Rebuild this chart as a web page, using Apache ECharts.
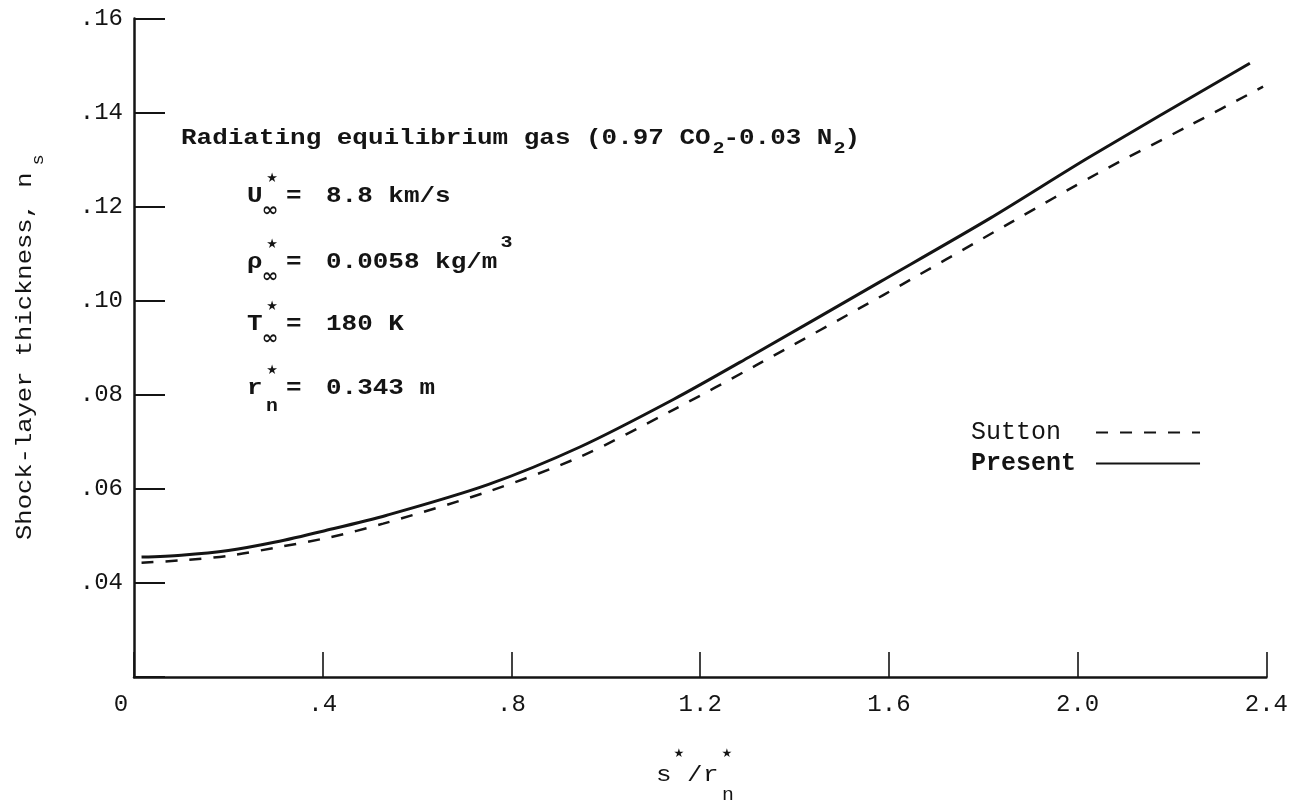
<!DOCTYPE html>
<html>
<head>
<meta charset="utf-8">
<script src="https://cdn.jsdelivr.net/npm/echarts@6/dist/echarts.min.js"></script>
<style>
  html, body { margin: 0; padding: 0; background: #ffffff; }
  #chart { width: 1291px; height: 805px; }
</style>
</head>
<body>
<div id="chart"></div>
<script>
// ---- data ----
const presentX = [0.016, 0.1, 0.2, 0.3, 0.4, 0.536, 0.75, 0.945, 1.143, 1.305, 1.581, 1.814, 2.026, 2.365];
const presentY = [0.0455, 0.0459, 0.0469, 0.0487, 0.0510, 0.0544, 0.0609, 0.0689, 0.0790, 0.0881, 0.1040, 0.1175, 0.1306, 0.1505];
const suttonX  = [0.016, 0.1, 0.203, 0.3, 0.415, 0.528, 0.75, 0.945, 1.143, 1.319, 1.588, 1.856, 2.043, 2.238, 2.393];
const suttonY  = [0.0443, 0.0448, 0.0458, 0.0475, 0.0497, 0.0526, 0.0594, 0.0668, 0.0768, 0.0863, 0.1012, 0.1165, 0.1271, 0.1373, 0.1455];
const xTicks = [0, 0.4, 0.8, 1.2, 1.6, 2.0, 2.4];
const yTicks = [0.02, 0.04, 0.06, 0.08, 0.10, 0.12, 0.14, 0.16];
const seriesNames = ['Sutton', 'Present'];

const MONO = "'Liberation Mono', 'DejaVu Sans Mono', monospace";
const SYM = "'DejaVu Sans', sans-serif";
const INK = '#141414';

function pairs(xs, ys) { return xs.map((x, i) => [x, ys[i]]); }

function txt(x, y, text, size, o) {
  o = o || {};
  const family = o.family || MONO;
  const sx = o.sx !== undefined ? o.sx : 1.18;
  const align = o.align || 'left';
  return {
    type: 'text', x: x, y: y, scaleX: sx, rotation: o.rot || 0, z: 10,
    style: {
      text: text, fontFamily: family, fontSize: size, fill: INK,
      fontWeight: o.weight || 'bold',
      align: align, verticalAlign: 'middle',
      textAlign: align, textVerticalAlign: 'middle'
    }
  };
}

const P = 15.6; // character pitch of the typewriter text
const graphics = [];
// Title line
let x0 = 181;
const l1 = 'Radiating equilibrium gas (0.97 CO';
graphics.push(txt(x0, 138, l1, 22));
let xc = x0 + l1.length * P;
graphics.push(txt(xc + 1, 149, '2', 17));
xc += 12;
graphics.push(txt(xc, 138, '-0.03 N', 22));
xc += 7 * P;
graphics.push(txt(xc + 1, 149, '2', 17));
xc += 12;
graphics.push(txt(xc, 138, ')', 22));

// parameter lines
const params = [
  { sym: 'U', sub: '\u221E', val: '8.8 km/s', y: 196 },
  { sym: '\u03C1', sub: '\u221E', val: '0.0058 kg/m', y: 262, sup: '3' },
  { sym: 'T', sub: '\u221E', val: '180 K', y: 324 },
  { sym: 'r', sub: 'n', val: '0.343 m', y: 388 }
];
params.forEach(p => {
  graphics.push(txt(247, p.y, p.sym, 22));
  graphics.push(txt(272, p.y - 17, '\u2605', 13, { family: SYM, sx: 1, align: 'center', weight: 'normal' }));
  if (p.sub === 'n') {
    graphics.push(txt(272, p.y + 18, 'n', 18, { align: 'center', sx: 1.1 }));
  } else {
    graphics.push(txt(270, p.y + 15, '\u221E', 19, { family: SYM, sx: 1.05, align: 'center' }));
  }
  graphics.push(txt(286, p.y, '=', 22));
  graphics.push(txt(326, p.y, p.val, 22));
  if (p.sup) {
    graphics.push(txt(326 + p.val.length * P + 3, p.y - 19, p.sup, 17));
  }
});

// x-axis title  s*/r*_n
graphics.push(txt(656, 775, 's', 22, { weight: 'normal' }));
graphics.push(txt(679, 754, '\u2605', 12, { family: SYM, sx: 1, align: 'center', weight: 'normal' }));
graphics.push(txt(687, 775, '/', 22, { weight: 'normal' }));
graphics.push(txt(703, 775, 'r', 22, { weight: 'normal' }));
graphics.push(txt(727, 754, '\u2605', 12, { family: SYM, sx: 1, align: 'center', weight: 'normal' }));
graphics.push(txt(728, 795, 'n', 18, { align: 'center', sx: 1.1, weight: 'normal' }));

// y-axis title (rotated)
graphics.push(txt(25, 540, 'Shock-layer thickness, n', 22, { rot: Math.PI / 2, sx: 1.16, weight: 'normal' }));
graphics.push(txt(38, 160, 's', 17, { rot: Math.PI / 2, sx: 1.1, align: 'center', weight: 'normal' }));

const chart = echarts.init(document.getElementById('chart'), null, { renderer: 'canvas' });
chart.setOption({
  backgroundColor: '#ffffff',
  animation: false,
  grid: { left: 134, right: 24, top: 18.5, bottom: 128, containLabel: false },
  legend: {
    data: [
      { name: 'Sutton', textStyle: { fontWeight: 'normal' } },
      { name: 'Present', textStyle: { fontWeight: 'bold' } }
    ],
    formatter: function (name) { return name === 'Sutton' ? 'Sutton  ' : 'Present '; },
    orient: 'vertical',
    left: 966,
    top: 415,
    align: 'right',
    itemWidth: 104,
    itemHeight: 14,
    itemGap: 6,
    selectedMode: false,
    itemStyle: { opacity: 0 },
    textStyle: { fontFamily: MONO, fontSize: 25, color: INK, lineHeight: 25 }
  },
  xAxis: {
    type: 'value',
    min: xTicks[0], max: xTicks[xTicks.length - 1], interval: 0.4,
    axisLine: { show: true, lineStyle: { color: INK, width: 2.5 } },
    axisTick: { show: true, inside: true, length: 25, lineStyle: { color: INK, width: 1.6 } },
    splitLine: { show: false },
    axisLabel: {
      margin: 16, color: INK, fontFamily: MONO, fontSize: 24,
      formatter: function (v) {
        if (Math.abs(v) < 1e-9) return '{z|0}';
        const s = (Math.round(v * 10) / 10).toFixed(1);
        return v < 1 ? s.replace(/^0/, '') : s;
      },
      rich: { z: { fontFamily: MONO, fontSize: 24, color: INK, padding: [0, 26, 0, 0] } }
    }
  },
  yAxis: {
    type: 'value',
    min: yTicks[0], max: yTicks[yTicks.length - 1], interval: 0.02,
    axisLine: { show: true, lineStyle: { color: INK, width: 2.5 } },
    axisTick: { show: true, inside: true, length: 31, lineStyle: { color: INK, width: 2 } },
    splitLine: { show: false },
    axisLabel: {
      margin: 11, color: INK, fontFamily: MONO, fontSize: 24,
      formatter: function (v) {
        if (v < 0.03) return '';
        return '.' + String(Math.round(v * 100)).padStart(2, '0');
      }
    }
  },
  series: [
    {
      name: 'Sutton', type: 'line', data: pairs(suttonX, suttonY),
      smooth: 0.3, showSymbol: false, symbol: 'none', color: INK,
      lineStyle: { color: INK, width: 2.5, type: [12, 12] }
    },
    {
      name: 'Present', type: 'line', data: pairs(presentX, presentY),
      smooth: 0.3, showSymbol: false, symbol: 'none', color: INK,
      lineStyle: { color: INK, width: 3 }
    }
  ],
  graphic: { elements: graphics }
});
</script>
</body>
</html>
